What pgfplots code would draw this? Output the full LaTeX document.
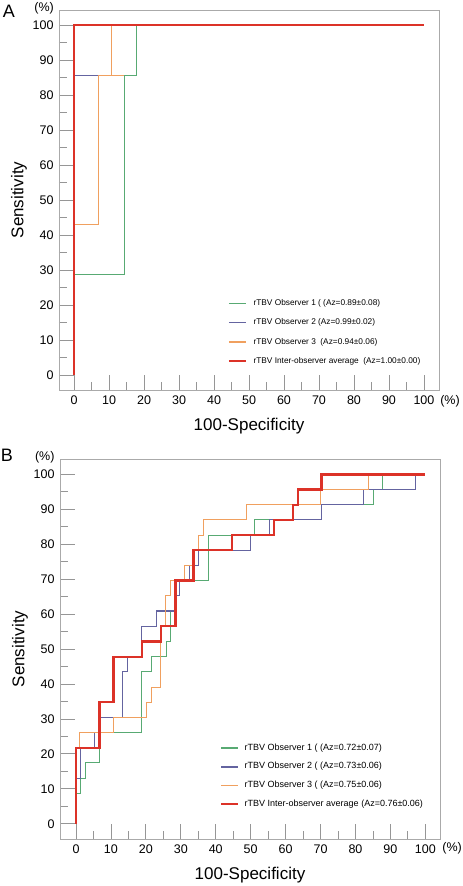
\documentclass[border=0pt]{standalone}
\usepackage{fontspec}
\setmainfont{Liberation Sans}
\usepackage{pgfplots}
\pgfplotsset{compat=1.18}
\definecolor{cgreen}{RGB}{88,170,115}
\definecolor{cblue}{RGB}{100,100,160}
\definecolor{corange}{RGB}{240,160,95}
\definecolor{cred}{RGB}{220,50,40}
\definecolor{framegray}{RGB}{170,170,170}
\definecolor{tickgray}{RGB}{150,150,150}
\pgfplotsset{
  rocstyle/.style={
    scale only axis, width=380pt, height=380pt,
    axis line style={draw=framegray, line width=0.9pt},
    xtick={0,10,...,100}, ytick={0,10,...,100},
    minor xtick={5,15,...,95}, minor ytick={5,15,...,95},
    tick pos=left, tick align=inside,
    major tick length=15pt, minor tick length=8pt,
    tick style={tickgray, line width=0.8pt},
    tick label style={font=\fontsize{12.5}{14}\selectfont},
    xticklabel style={yshift=-2pt},
    yticklabel style={xshift=-2pt},
    /pgf/number format/assume math mode=true,
    xlabel={100-Specificity}, ylabel={Sensitivity},
    every axis x label/.style={at={(axis description cs:0.5,-0.095)}, anchor=center, font=\fontsize{17}{20}\selectfont},
    every axis y label/.style={at={(axis description cs:-0.105,0.5)}, anchor=center, rotate=90, font=\fontsize{17}{20}\selectfont},
    legend image code/.code={\draw[##1,line width=1.6pt] (0pt,0pt) -- (17pt,0pt);},
    legend cell align=left,
    unbounded coords=jump,
    clip=false,
  }
}
\begin{document}
\begin{tikzpicture}[x=1pt,y=1pt]
\path[use as bounding box] (0,0) rectangle (463,-886);
\node[font=\fontsize{18}{20}\selectfont] at (9,-11) {A};
\node[font=\fontsize{18}{20}\selectfont] at (7,-455.5) {B};

% Panel A
\begin{axis}[rocstyle,
  at={(59pt,-10pt)}, anchor=north west,
  xmin=-4.3, xmax=104.3, ymin=-4.3, ymax=104.3,
  legend style={at={(axis cs:44,12.2)}, anchor=west, draw=none, fill=none,
    inner sep=0pt, outer sep=0pt, row sep=11.1pt, column sep=7pt,
    font=\fontsize{8.3}{10}\selectfont,
    nodes={inner sep=0pt, text height=6.2pt, text depth=2pt}},
]
\addplot[cgreen, line width=1pt] coordinates {(0,0)(0,28.6)(14.3,28.6)(14.3,85.7)(17.9,85.7)(17.9,100)(100,100)};
\addlegendentry{rTBV Observer 1 ( (Az=0.89±0.08)}
\addplot[cblue, line width=1pt] coordinates {(0,0)(0,85.7)(10.8,85.7)(10.8,100)(100,100)};
\addlegendentry{rTBV Observer 2 (Az=0.99±0.02)}
\addplot[corange, line width=1pt] coordinates {(0,0)(0,42.9)(7.1,42.9)(7.1,85.7)(14.3,85.7)(10.8,nan)(10.8,85.7)(10.8,100)(100,100)};
\addlegendentry{rTBV Observer 3\ \ (Az=0.94±0.06)}
\addplot[cred, line width=1.2pt] coordinates {(0,0)(0,100)(100,100)};
\addlegendentry{rTBV Inter-observer average\ \ (Az=1.00±0.00)}
\node[font=\fontsize{12.5}{14}\selectfont] at (axis description cs:-0.039,1.005) {(\%)};
\node[font=\fontsize{12.5}{14}\selectfont] at (axis description cs:1.029,-0.030) {(\%)};
\end{axis}

% Panel B
\begin{axis}[rocstyle,
  at={(60pt,-459pt)}, anchor=north west,
  xmin=-4.58, xmax=104.2, ymin=-4.38, ymax=104.4,
  legend style={at={(axis cs:41.4,13.65)}, anchor=west, draw=none, fill=none,
    inner sep=0pt, outer sep=0pt, row sep=10.1pt, column sep=5.5pt,
    font=\fontsize{9}{11}\selectfont,
    nodes={inner sep=0pt, text height=6.5pt, text depth=2pt}},
]
\addplot[cgreen, line width=1.1pt] coordinates {(0,0)(0,8.7)(1.3,8.7)(1.3,13.0)(2.8,13.0)(2.8,17.4)(6.7,17.4)(6.7,26.1)(18.8,26.1)(18.8,43.5)(21.6,43.5)(21.6,47.8)(25.8,47.8)(25.8,52.2)(27.1,52.2)(27.1,60.9)(28.5,60.9)(28.5,69.6)(37.9,69.6)(37.9,82.6)(51.2,82.6)(51.2,87.0)(70.3,87.0)(70.3,91.3)(85.1,91.3)(85.1,95.7)(87.8,95.7)(87.8,100)(100,100)};
\addlegendentry{rTBV Observer 1 ( (Az=0.72±0.07)}
\addplot[cblue, line width=1.1pt] coordinates {(0,0)(0,13.0)(1.4,13.0)(1.4,21.7)(5.4,21.7)(5.4,26.1)(6.7,26.1)(6.7,30.4)(13.4,30.4)(13.4,43.5)(14.7,43.5)(14.7,47.8)(18.8,47.8)(18.8,56.5)(23.0,56.5)(23.0,60.9)(28.2,60.9)(28.2,65.2)(29.6,65.2)(29.6,69.6)(32.4,69.6)(32.4,73.9)(35.0,73.9)(35.0,78.3)(50.0,78.3)(50.0,82.6)(55.5,82.6)(55.5,87.0)(70.3,87.0)(70.3,91.3)(82.3,91.3)(82.3,95.7)(97.2,95.7)(97.2,100)(100,100)};
\addlegendentry{rTBV Observer 2 ( (Az=0.73±0.06)}
\addplot[corange, line width=1.1pt] coordinates {(0,0)(0,21.7)(1.1,21.7)(1.1,26.1)(10.7,26.1)(10.7,30.4)(20.1,30.4)(20.1,34.8)(21.6,34.8)(21.6,39.1)(24.3,39.1)(24.3,56.5)(25.7,56.5)(25.7,65.2)(27.1,65.2)(27.1,69.6)(31.1,69.6)(31.1,73.9)(33.6,73.9)(33.6,78.3)(35.1,78.3)(35.1,82.6)(36.5,82.6)(36.5,87.0)(48.7,87.0)(48.7,91.3)(70.1,91.3)(70.1,95.7)(83.7,95.7)(83.7,100)(100,100)};
\addlegendentry{rTBV Observer 3 ( (Az=0.75±0.06)}
\addplot[cred, line width=2.3pt] coordinates {(0,0)(0,21.7)(6.7,21.7)(6.7,34.8)(10.7,34.8)(10.7,47.8)(18.8,47.8)(18.8,52.2)(24.4,52.2)(24.4,56.5)(28.5,56.5)(28.5,69.6)(33.6,69.6)(33.6,78.3)(44.6,78.3)(44.6,82.6)(56.7,82.6)(56.7,87.0)(62.2,87.0)(62.2,91.3)(63.6,91.3)(63.6,95.7)(70.3,95.7)(70.3,100)(100,100)};
\addlegendentry{rTBV Inter-observer average (Az=0.76±0.06)}
\node[font=\fontsize{12.5}{14}\selectfont] at (axis description cs:-0.04,1.004) {(\%)};
\node[font=\fontsize{12.5}{14}\selectfont] at (axis description cs:1.032,-0.025) {(\%)};
\end{axis}
\end{tikzpicture}
\end{document}
